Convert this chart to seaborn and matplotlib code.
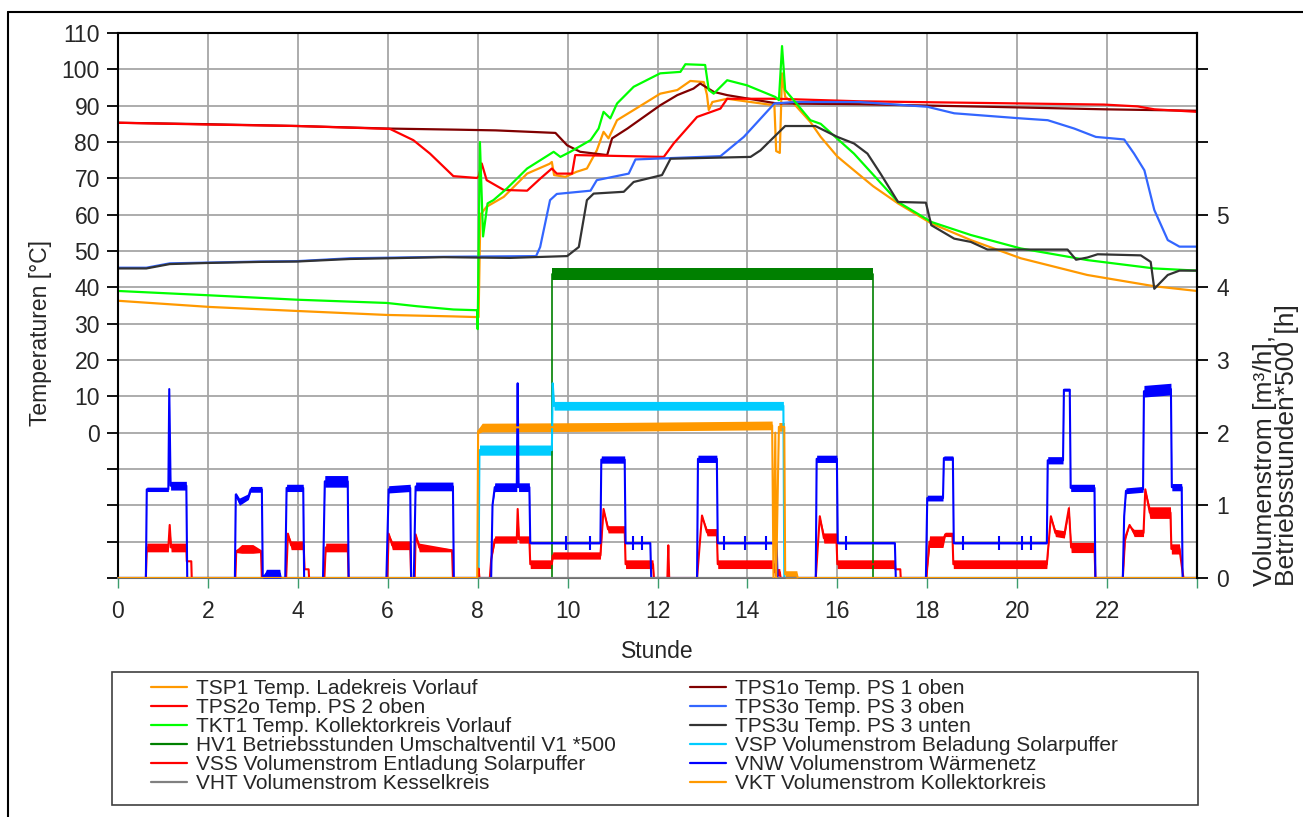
import numpy as np
import matplotlib
matplotlib.use("Agg")
import matplotlib.pyplot as plt
import seaborn as sns
from matplotlib.lines import Line2D
from matplotlib.patches import Rectangle
from matplotlib.ticker import FuncFormatter

# temperatures, left axis: (hour, degC)
tsp1 = [(0, 36.3), (2.04, 34.6), (3.97, 33.5), (5.98, 32.4), (7.46, 32.0), (8.02, 31.8),
        (8.06, 60.0), (8.2, 62.2), (8.58, 64.9), (9.1, 71.3), (9.6, 74.0), (9.65, 74.5),
        (9.7, 70.9), (9.95, 70.4), (10.2, 71.8), (10.43, 72.7), (10.65, 77.7), (10.8, 82.8),
        (10.91, 81.0), (11.1, 86.0), (11.47, 88.8), (12.06, 93.3), (12.44, 94.3), (12.73, 96.8),
        (13.03, 96.5), (13.1, 93.0), (13.14, 88.8), (13.22, 91.0), (13.55, 91.9), (14.6, 90.1),
        (14.64, 77.5), (14.72, 77.0), (14.77, 98.9), (14.84, 92.4), (15.03, 90.6), (15.4, 85.5),
        (15.63, 81.4), (16.0, 76.0), (16.37, 72.2), (16.8, 67.8), (17.35, 63.1), (18.09, 57.6),
        (18.97, 53.0), (20.08, 48.0), (21.56, 43.4), (23.05, 40.3), (24.0, 39.0)]
tps1o = [(0, 85.3), (2, 84.9), (4, 84.4), (6.0, 83.7), (7.51, 83.4), (8.4, 83.2), (9.73, 82.5),
         (9.99, 79.1), (10.28, 77.3), (10.88, 76.4), (10.99, 81.0), (11.33, 83.7), (12.06, 90.1),
         (12.44, 92.9), (12.8, 94.7), (12.95, 96.1), (13.25, 93.8), (13.55, 92.9), (14.66, 90.6),
         (16.5, 90.4), (19.34, 89.7), (21.93, 89.0), (24, 88.6)]
tps2o = [(0, 85.3), (2, 84.8), (4, 84.4), (6.05, 83.6), (6.57, 80.5), (6.94, 76.8), (7.46, 70.6),
         (7.98, 70.1), (8.02, 70.4), (8.09, 74.1), (8.2, 69.5), (8.58, 66.8), (9.1, 66.6),
         (9.39, 69.9), (9.65, 72.7), (9.76, 71.3), (10.1, 71.3), (10.17, 76.4), (12.14, 75.9),
         (12.36, 79.6), (12.88, 86.9), (13.4, 89.2), (13.55, 91.9), (14.66, 91.9), (16.5, 91.2),
         (21.93, 90.3), (22.68, 89.8), (23.05, 89.0), (24, 88.3)]
tps3o = [(0, 45.4), (0.63, 45.4), (1.15, 46.6), (1.97, 46.8), (3.16, 47.1), (3.97, 47.2),
         (5.16, 48.0), (7.24, 48.4), (9.3, 48.6), (9.39, 51.1), (9.61, 64.0), (9.76, 65.7),
         (10.51, 66.6), (10.65, 69.5), (11.36, 71.3), (11.51, 75.2), (13.4, 76.1), (13.92, 81.4),
         (14.6, 90.6), (15.03, 91.0), (16.5, 91.0), (18.0, 89.7), (18.6, 87.9), (20.08, 86.5),
         (20.68, 86.0), (21.27, 83.7), (21.75, 81.4), (22.38, 80.7), (22.6, 76.8), (22.83, 72.2),
         (23.05, 61.3), (23.35, 53.0), (23.61, 51.2), (24, 51.2)]
tkt1 = [(0, 39.0), (2.04, 37.8), (3.97, 36.6), (5.98, 35.7), (6.65, 34.8), (7.46, 33.9),
        (7.99, 33.7), (8.0, 28.5), (8.05, 80.0), (8.12, 54.0), (8.22, 63.1), (8.35, 64.0),
        (8.65, 67.2), (9.1, 72.7), (9.69, 77.3), (9.84, 75.9), (10.06, 77.3), (10.51, 80.5),
        (10.69, 83.7), (10.8, 88.3), (10.95, 86.5), (11.1, 90.6), (11.47, 95.2), (12.06, 98.9),
        (12.51, 99.3), (12.62, 101.4), (13.06, 101.2), (13.14, 94.3), (13.25, 93.3), (13.55, 97.0),
        (13.99, 95.6), (14.62, 92.4), (14.7, 91.5), (14.77, 106.4), (14.84, 94.3), (15.03, 91.5),
        (15.4, 86.0), (15.63, 85.0), (16.37, 76.8), (17.35, 63.5), (18.09, 58.0), (18.97, 54.4),
        (20.08, 50.7), (21.56, 47.5), (23.05, 45.2), (24, 44.6)]
tps3u = [(0, 45.2), (0.63, 45.2), (1.15, 46.4), (1.97, 46.7), (3.16, 47.0), (3.97, 47.1),
         (5.16, 47.8), (7.24, 48.3), (8.72, 48.1), (9.99, 48.6), (10.25, 51.1), (10.43, 64.0),
         (10.58, 65.8), (11.25, 66.3), (11.47, 69.0), (12.1, 70.9), (12.29, 75.4), (14.07, 75.9),
         (14.29, 77.7), (14.84, 84.4), (15.51, 84.4), (16.0, 81.4), (16.37, 79.6), (16.67, 76.8),
         (16.96, 71.3), (17.35, 63.5), (17.97, 63.3), (18.09, 57.1), (18.6, 53.4), (18.97, 52.5),
         (19.34, 50.4), (21.12, 50.4), (21.31, 47.6), (21.56, 48.2), (21.79, 49.1), (22.75, 48.8),
         (22.97, 47.0), (23.05, 39.6), (23.35, 43.4), (23.61, 44.6), (24, 44.6)]

# flows, right axis: (hour, m3/h, noise half-width)
vsp = [(0, 0, 0), (8.02, 0, 0), (8.04, 1.76, 0.07), (9.65, 1.76, 0.07), (9.67, 2.68, 0),
       (9.7, 2.37, 0.06), (14.8, 2.37, 0.06), (14.82, 0, 0), (24, 0, 0)]
vss = [(0, 0, 0), (0.62, 0, 0), (0.64, 0.42, 0.06), (1.12, 0.42, 0.06), (1.15, 0.73, 0),
       (1.18, 0.42, 0.06), (1.52, 0.42, 0.06), (1.53, 0.23, 0), (1.63, 0.23, 0), (1.64, 0, 0),
       (2.61, 0, 0), (2.63, 0.37, 0.02), (2.75, 0.4, 0.06), (3.0, 0.4, 0.06), (3.18, 0.37, 0.02),
       (3.2, 0, 0), (3.74, 0, 0), (3.78, 0.61, 0), (3.85, 0.45, 0.06), (4.13, 0.45, 0.06),
       (4.15, 0.12, 0), (4.24, 0.12, 0), (4.25, 0, 0), (4.59, 0, 0), (4.62, 0.42, 0.06),
       (5.11, 0.42, 0.06), (5.13, 0, 0), (5.99, 0, 0), (6.02, 0.61, 0), (6.1, 0.45, 0.06),
       (6.5, 0.45, 0.06), (6.52, 0, 0), (6.6, 0, 0), (6.62, 0.6, 0), (6.7, 0.42, 0.06),
       (7.43, 0.38, 0.02), (7.45, 0, 0), (8.01, 0, 0), (8.02, 0.13, 0), (8.04, 0, 0),
       (8.27, 0, 0), (8.3, 0.25, 0), (8.38, 0.53, 0.05), (8.87, 0.53, 0.05), (8.89, 0.95, 0),
       (8.92, 0.53, 0.05), (9.15, 0.53, 0.05), (9.17, 0.19, 0.06), (9.65, 0.19, 0.06),
       (9.67, 0.31, 0.05), (10.73, 0.31, 0.05), (10.8, 0.95, 0), (10.9, 0.67, 0.05),
       (11.27, 0.67, 0.05), (11.29, 0.19, 0.06), (11.9, 0.19, 0.06), (11.92, 0, 0),
       (12.22, 0, 0), (12.24, 0.45, 0), (12.26, 0, 0), (12.88, 0, 0), (12.99, 0.86, 0),
       (13.1, 0.63, 0.05), (13.32, 0.63, 0.05), (13.34, 0.19, 0.06), (14.59, 0.19, 0.06),
       (14.6, 0.08, 0.05), (14.72, 0.08, 0.05), (14.74, 0, 0), (15.52, 0, 0), (15.61, 0.85, 0),
       (15.7, 0.55, 0.07), (15.98, 0.55, 0.07), (16.0, 0.19, 0.06), (17.28, 0.19, 0.06),
       (17.29, 0.12, 0), (17.4, 0.12, 0), (17.41, 0, 0), (17.98, 0, 0), (18.05, 0.5, 0.08),
       (18.35, 0.5, 0.08), (18.4, 0.6, 0.03), (18.56, 0.6, 0.03), (18.58, 0.19, 0.06),
       (20.66, 0.19, 0.06), (20.75, 0.85, 0), (20.85, 0.62, 0.05), (21.05, 0.6, 0.05),
       (21.15, 0.96, 0.05), (21.2, 0.42, 0.07), (21.72, 0.42, 0.07), (21.74, 0, 0),
       (22.35, 0, 0), (22.4, 0.55, 0.05), (22.5, 0.73, 0), (22.6, 0.62, 0.05), (22.81, 0.62, 0.05),
       (22.85, 1.22, 0), (22.95, 0.9, 0.08), (23.41, 0.9, 0.08), (23.43, 0.4, 0.07),
       (23.61, 0.4, 0.07), (23.68, 0.08, 0), (23.7, 0, 0), (24, 0, 0)]
vnw = [(0, 0, 0), (0.62, 0, 0), (0.64, 1.22, 0.03), (1.12, 1.22, 0.03), (1.14, 2.6, 0),
       (1.17, 1.27, 0.06), (1.52, 1.27, 0.06), (1.54, 0, 0), (2.6, 0, 0), (2.62, 1.15, 0.03),
       (2.7, 1.05, 0.05), (2.9, 1.12, 0.04), (2.95, 1.22, 0.04), (3.2, 1.22, 0.04), (3.22, 0, 0),
       (3.3, 0.06, 0.06), (3.6, 0.06, 0.06), (3.62, 0, 0), (3.72, 0, 0), (3.75, 1.24, 0.05),
       (4.12, 1.24, 0.05), (4.14, 0, 0), (4.56, 0, 0), (4.6, 1.33, 0.08), (5.11, 1.33, 0.08),
       (5.13, 0, 0), (5.97, 0, 0), (6.02, 1.22, 0.05), (6.5, 1.24, 0.05), (6.52, 0, 0),
       (6.58, 0, 0), (6.62, 1.26, 0.06), (7.45, 1.26, 0.06), (7.47, 0, 0), (8.3, 0, 0),
       (8.33, 1.0, 0), (8.38, 1.25, 0.06), (8.87, 1.25, 0.06), (8.89, 2.68, 0), (8.91, 1.25, 0.06),
       (9.15, 1.25, 0.06), (9.17, 0.48, 0.01), (10.73, 0.48, 0.01), (10.75, 1.63, 0.05),
       (11.27, 1.63, 0.05), (11.29, 0.48, 0.01), (11.84, 0.48, 0.01), (11.86, 0, 0),
       (12.88, 0, 0), (12.9, 1.64, 0.05), (13.32, 1.64, 0.05), (13.34, 0.48, 0.01),
       (14.65, 0.48, 0.01), (14.67, 0, 0), (15.52, 0, 0), (15.54, 1.64, 0.05), (15.99, 1.64, 0.05),
       (16.01, 0.48, 0.01), (17.28, 0.48, 0.01), (17.3, 0, 0), (17.97, 0, 0), (18.0, 1.1, 0.04),
       (18.35, 1.1, 0.04), (18.37, 1.65, 0.03), (18.57, 1.65, 0.03), (18.59, 0.48, 0.01),
       (20.66, 0.48, 0.01), (20.68, 1.62, 0.05), (21.02, 1.62, 0.05), (21.04, 2.59, 0.02),
       (21.17, 2.59, 0.02), (21.19, 1.24, 0.05), (21.72, 1.24, 0.05), (21.74, 0, 0),
       (22.35, 0, 0), (22.38, 0.85, 0), (22.42, 1.2, 0.04), (22.8, 1.22, 0.04), (22.82, 2.57, 0.08),
       (23.42, 2.6, 0.08), (23.44, 1.25, 0.05), (23.66, 1.25, 0.05), (23.68, 0, 0), (24, 0, 0)]
vnw_dip_h = [9.97, 10.49, 11.45, 11.66, 13.47, 13.95, 14.42, 16.2, 18.8, 19.6, 20.1, 20.3]
vht = [(0, 0, 0), (24, 0, 0)]
vkt = [(0, 0, 0), (7.99, 0, 0), (8.01, 2.02, 0.03), (8.1, 2.07, 0.06), (11, 2.08, 0.06),
       (14.55, 2.1, 0.06), (14.58, 0, 0), (14.62, 2.0, 0), (14.64, 0, 0), (14.7, 2.08, 0.06),
       (14.82, 2.08, 0.06), (14.84, 0.05, 0.05), (15.1, 0.05, 0.05), (15.12, 0, 0), (24, 0, 0)]
hv1 = [(0, 0), (9.65, 0), (9.65, 4.18), (16.8, 4.18), (16.8, 0), (24, 0)]
hv1_band = [(9.66, 4.10, 4.26), (16.8, 4.10, 4.26)]

labels = ["TSP1 Temp. Ladekreis Vorlauf", "TPS1o Temp. PS 1 oben", "TPS2o Temp. PS 2 oben",
          "TPS3o Temp. PS 3 oben", "TKT1 Temp. Kollektorkreis Vorlauf", "TPS3u Temp. PS 3 unten",
          "HV1 Betriebsstunden Umschaltventil V1 *500", "VSP Volumenstrom Beladung Solarpuffer",
          "VSS Volumenstrom Entladung Solarpuffer", "VNW Volumenstrom Wärmenetz",
          "VHT Volumenstrom Kesselkreis", "VKT Volumenstrom Kollektorkreis"]
colors = ["#FF9900", "#800000", "#FF0000", "#3366FF", "#00FF00", "#333333",
          "#008000", "#00CCFF", "#FF0000", "#0000FF", "#808080", "#FF9900"]

sns.set_theme(style="white")
plt.rcParams['font.family'] = ['Liberation Sans', 'DejaVu Sans']

W, H = 1303, 817
fig = plt.figure(figsize=(W / 100, H / 100), dpi=100)
ax = fig.add_axes([118 / W, 1 - 578 / H, (1197 - 118) / W, (578 - 33) / H])
ax2 = ax.twinx()

# temperature lines
for data, col in zip([tsp1, tps1o, tps2o, tps3o, tkt1, tps3u], colors[:6]):
    a = np.array(data)
    sns.lineplot(x=a[:, 0], y=a[:, 1], ax=ax, color=col, linewidth=1.6,
                 estimator=None, sort=False)

# HV1 operating hours
a = np.array(hv1)
sns.lineplot(x=a[:, 0], y=a[:, 1], ax=ax2, color=colors[6], linewidth=1.2,
             estimator=None, sort=False)
b = np.array(hv1_band)
ax2.fill_between(b[:, 0], b[:, 1], b[:, 2], color=colors[6], lw=0)

# flow lines with noise bands
for data, col in zip([vsp, vss, vnw, vht, vkt], colors[7:]):
    a = np.array(data)
    if a[:, 2].any():
        ax2.fill_between(a[:, 0], a[:, 1] - a[:, 2], a[:, 1] + a[:, 2], color=col, lw=0)
    sns.lineplot(x=a[:, 0], y=a[:, 1], ax=ax2, color=col, linewidth=1.5,
                 estimator=None, sort=False)
    if data is vnw:
        ax2.vlines(vnw_dip_h, 0.38, 0.58, color=col, lw=1.5)

# axes, ticks, grid
ax.set_xlim(0, 24)
ax.set_ylim(-40, 110)
ax2.set_ylim(0, 7.5)
ax.set_xticks(np.arange(0, 25, 2))
ax.xaxis.set_major_formatter(FuncFormatter(lambda v, p: f"{int(v)}" if v < 24 else ""))
ax.set_yticks(np.arange(-40, 111, 10))
ax.yaxis.set_major_formatter(FuncFormatter(lambda v, p: f"{int(round(v))}" if v >= 0 else ""))
ax2.set_yticks(np.arange(0, 8, 1))
ax2.yaxis.set_major_formatter(FuncFormatter(lambda v, p: f"{int(round(v))}" if v <= 5 else ""))

ax.grid(True, color="#a6a6a6", linewidth=1.3)
ax.set_axisbelow(True)
ax.tick_params(axis="y", left=True, direction="out", length=8, width=1.3, color="black",
               labelsize=16.5, pad=5)
ax.tick_params(axis="x", bottom=True, direction="out", length=7, width=1, color="#3c9c6c",
               labelsize=16.5, pad=9)
ax2.tick_params(axis="y", right=True, direction="out", length=8, width=1.3, color="black",
                labelsize=16.5, pad=6)

for s in ["left", "right", "top"]:
    ax.spines[s].set_color("black")
    ax.spines[s].set_linewidth(1.5)
ax.spines["bottom"].set_color("#707070")
ax.spines["bottom"].set_linewidth(1.5)
for s in ["left", "top", "bottom"]:
    ax2.spines[s].set_visible(False)
ax2.spines["right"].set_color("black")
ax2.spines["right"].set_linewidth(1.5)

ax.set_xlabel("Stunde", fontsize=16.5, labelpad=12)
ax.set_ylabel("Temperaturen [°C]", fontsize=16.5)
ax.yaxis.set_label_coords(-0.061, 0.45)
ax2.set_ylabel("")
fig.text(1276 / W, 1 - 445 / H, "Volumenstrom [m³/h],\nBetriebsstunden*500 [h]",
         rotation=90, ha="center", va="center", multialignment="left", fontsize=19,
         linespacing=0.9)

# legend: frame + two columns
fig.add_artist(Rectangle((112 / W, 1 - 805 / H), (1198 - 112) / W, (805 - 672) / H,
                         transform=fig.transFigure, fill=False, edgecolor="#404040", lw=1.2))
handles = [Line2D([], [], color=c, lw=1.6) for c in colors]
for col_idx, x0 in enumerate([151, 690]):
    idx = list(range(col_idx, 12, 2))
    fig.legend([handles[i] for i in idx], [labels[i] for i in idx], loc="upper left",
               bbox_to_anchor=(x0 / W, 1 - 679 / H), frameon=False, borderpad=0,
               borderaxespad=0, labelspacing=0.0, handlelength=1.75, handletextpad=0.4,
               fontsize=15)

# outer frame (top and left edge)
fig.add_artist(Line2D([8 / W, 1], [1 - 12 / H, 1 - 12 / H], transform=fig.transFigure,
                      color="black", lw=1.5))
fig.add_artist(Line2D([8 / W, 8 / W], [0, 1 - 12 / H], transform=fig.transFigure,
                      color="black", lw=1.5))

fig.savefig("out.png", dpi=100)
